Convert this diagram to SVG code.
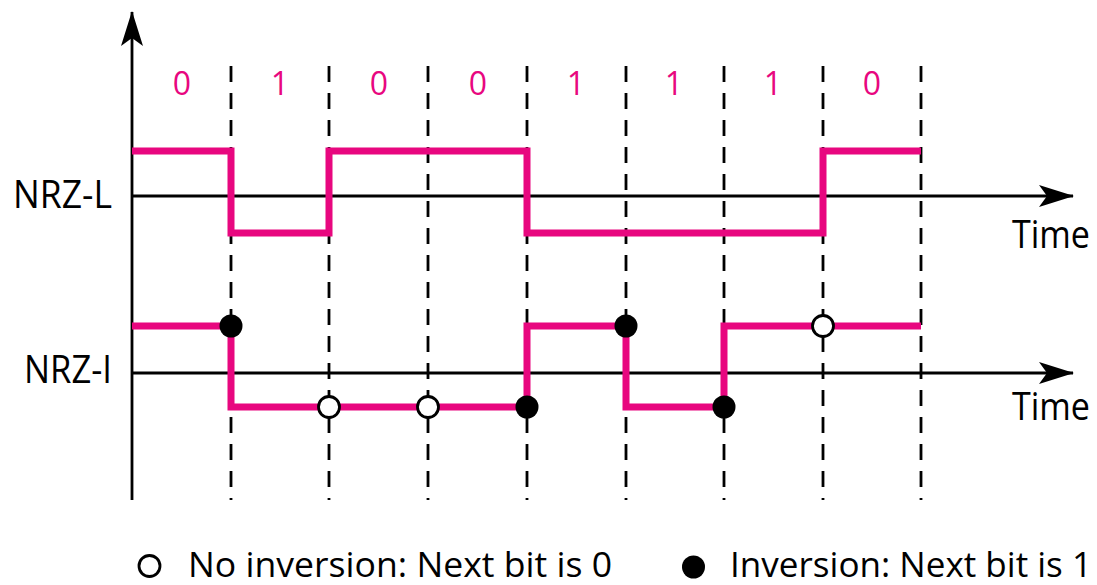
<svg xmlns="http://www.w3.org/2000/svg" width="1097" height="585" viewBox="0 0 1097 585">
<style>
.axis{stroke:#000;stroke-width:2.8;fill:none}
.grid{stroke:#000;stroke-width:2.8;stroke-dasharray:16 11;fill:none}
.sig{stroke:#E8077F;stroke-width:7;fill:none;stroke-linejoin:miter;stroke-linecap:butt}
.bit{font-family:"Open Sans","Liberation Sans",sans-serif;font-size:32px;fill:#E8077F;text-anchor:middle}
.lbl{font-family:"Open Sans","Liberation Sans",sans-serif;font-size:38px;fill:#000}
.leg{font-family:"Open Sans","Liberation Sans",sans-serif;font-size:34px;fill:#000}
.open{fill:#fff;stroke:#000;stroke-width:2.8}
.fill{fill:#000}
</style>
<defs>
<marker id="arr" markerWidth="36" markerHeight="24" refX="34" refY="12" orient="auto" markerUnits="userSpaceOnUse">
<path d="M0,1 L35,12 L0,23 L8,12 Z" fill="#000"/>
</marker>
</defs>
<g id="connectors">
<line class="axis" x1="132" y1="500" x2="132" y2="12" marker-end="url(#arr)"/>
<line class="axis" x1="132" y1="196" x2="1073" y2="196" marker-end="url(#arr)"/>
<line class="axis" x1="132" y1="373" x2="1073" y2="373" marker-end="url(#arr)"/>
</g>
<g id="grid">
<line class="grid" x1="231" y1="66" x2="231" y2="500"/>
<line class="grid" x1="329" y1="66" x2="329" y2="500"/>
<line class="grid" x1="428" y1="66" x2="428" y2="500"/>
<line class="grid" x1="527" y1="66" x2="527" y2="500"/>
<line class="grid" x1="626" y1="66" x2="626" y2="500"/>
<line class="grid" x1="724" y1="66" x2="724" y2="500"/>
<line class="grid" x1="823" y1="66" x2="823" y2="500"/>
<line class="grid" x1="921" y1="66" x2="921" y2="500"/>
</g>
<g id="nrzl-signal">
<path class="sig" d="M132,151 H231 V233 H329 V151 H527 V233 H823 V151 H921"/>
</g>
<g id="nrzi-signal">
<path class="sig" d="M132,326 H231 V407 H527 V326 H626 V407 H724 V326 H921"/>
</g>
<g id="markers">
<circle class="fill" cx="231" cy="326" r="11.5"/>
<circle class="open" cx="329" cy="407" r="10.5"/>
<circle class="open" cx="428" cy="407" r="10.5"/>
<circle class="fill" cx="527" cy="407" r="11.5"/>
<circle class="fill" cx="626" cy="326" r="11.5"/>
<circle class="fill" cx="724" cy="407" r="11.5"/>
<circle class="open" cx="823" cy="326" r="10.5"/>
</g>
<g id="bits">
<text class="bit" x="182" y="95">0</text>
<text class="bit" x="280" y="95">1</text>
<text class="bit" x="379" y="95">0</text>
<text class="bit" x="478" y="95">0</text>
<text class="bit" x="576" y="95">1</text>
<text class="bit" x="674" y="95">1</text>
<text class="bit" x="773" y="95">1</text>
<text class="bit" x="872" y="95">0</text>
</g>
<g id="labels">
<text class="lbl" x="13" y="208" textLength="99" lengthAdjust="spacingAndGlyphs">NRZ-L</text>
<text class="lbl" x="24" y="383" textLength="88" lengthAdjust="spacingAndGlyphs">NRZ-I</text>
<text class="lbl" x="1012" y="248" textLength="78" lengthAdjust="spacingAndGlyphs">Time</text>
<text class="lbl" x="1012" y="420" textLength="78" lengthAdjust="spacingAndGlyphs">Time</text>
</g>
<g id="legend">
<circle class="open" cx="149.5" cy="566" r="10.5"/>
<text class="leg" x="188" y="577" textLength="424" lengthAdjust="spacingAndGlyphs">No inversion: Next bit is 0</text>
<circle class="fill" cx="693.5" cy="567" r="11.5"/>
<text class="leg" x="730" y="577" textLength="362" lengthAdjust="spacingAndGlyphs">Inversion: Next bit is 1</text>
</g>
</svg>
